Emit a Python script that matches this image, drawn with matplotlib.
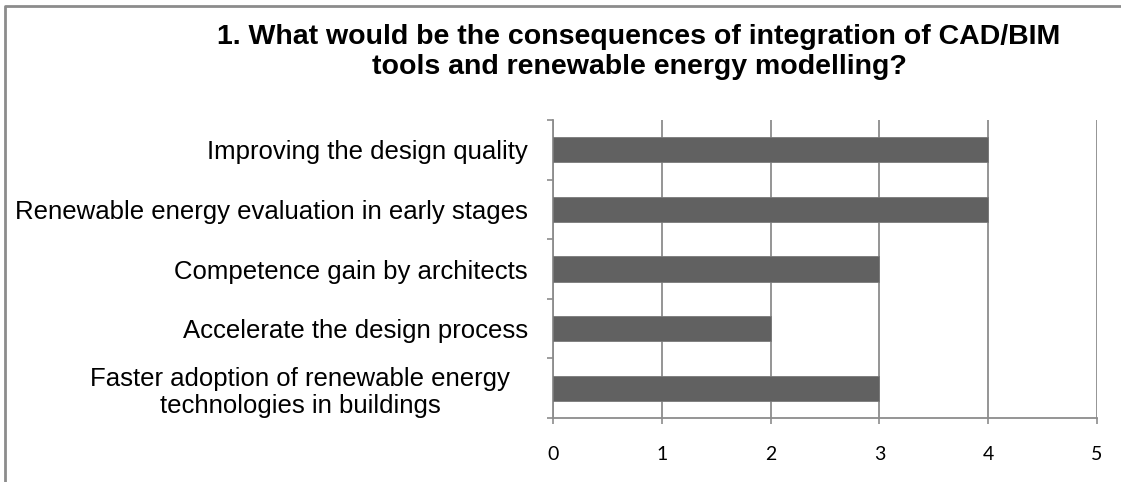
import matplotlib.pyplot as plt
from matplotlib.lines import Line2D

categories = [
    "Improving the design quality",
    "Renewable energy evaluation in early stages",
    "Competence gain by architects",
    "Accelerate the design process",
    "Faster adoption of renewable energy\ntechnologies in buildings",
]
responses = [4, 4, 3, 2, 3]
x_ticks = [0, 1, 2, 3, 4, 5]

title = ("1. What would be the consequences of integration of CAD/BIM\n"
         "tools and renewable energy modelling?")

grey = "#8c8c8c"
bar_color = "#616161"

fig = plt.figure(figsize=(11.21, 4.82), dpi=100)
ax = fig.add_axes([553 / 1121, 1 - 418 / 482, 544 / 1121, 298 / 482])

pos = list(range(len(categories)))
ax.barh(pos, responses, height=0.42, color=bar_color, edgecolor="#7a7a7a",
        linewidth=0.6, zorder=3)

ax.set_xlim(0, 5)
ax.set_ylim(len(categories) - 0.5, -0.5)
ax.set_xticks(x_ticks)
ax.set_xticklabels([str(t) for t in x_ticks], fontfamily="Lato", fontsize=14)
ax.tick_params(axis="x", length=4.5, width=1.2, color=grey, pad=15.5)

# category labels sit on major ticks, boundary marks on minor ticks
ax.set_yticks(pos)
ax.set_yticklabels(categories, fontfamily="Liberation Sans", fontsize=18.5,
                   multialignment="center", linespacing=1.15)
ax.set_yticks([p - 0.5 for p in pos] + [len(pos) - 0.5], minor=True)
ax.tick_params(axis="y", which="major", length=0, pad=18)
ax.tick_params(axis="y", which="minor", length=4.5, width=1.2, color=grey)

# the wrapped label is centred in its box
wrapped = ax.get_yticklabels()[-1]
wrapped.set_horizontalalignment("center")
wrapped.set_x(-0.419)

ax.grid(axis="x", color=grey, linewidth=1.3, zorder=0)
for side in ("top", "right"):
    ax.spines[side].set_visible(False)
for side in ("left", "bottom"):
    ax.spines[side].set_color(grey)
    ax.spines[side].set_linewidth(1.3)

fig.text(639 / 1121, 1 - 52 / 482, title, ha="center", va="center",
         fontfamily="Liberation Sans", fontweight="bold", fontsize=20.5,
         linespacing=1.18)

# chart frame
fig.add_artist(Line2D([4.5 / 1121, 4.5 / 1121, 1.0], [0.0, 1 - 5.5 / 482, 1 - 5.5 / 482],
                      transform=fig.transFigure, color=grey, linewidth=2))

fig.savefig("out.png", dpi=100)
